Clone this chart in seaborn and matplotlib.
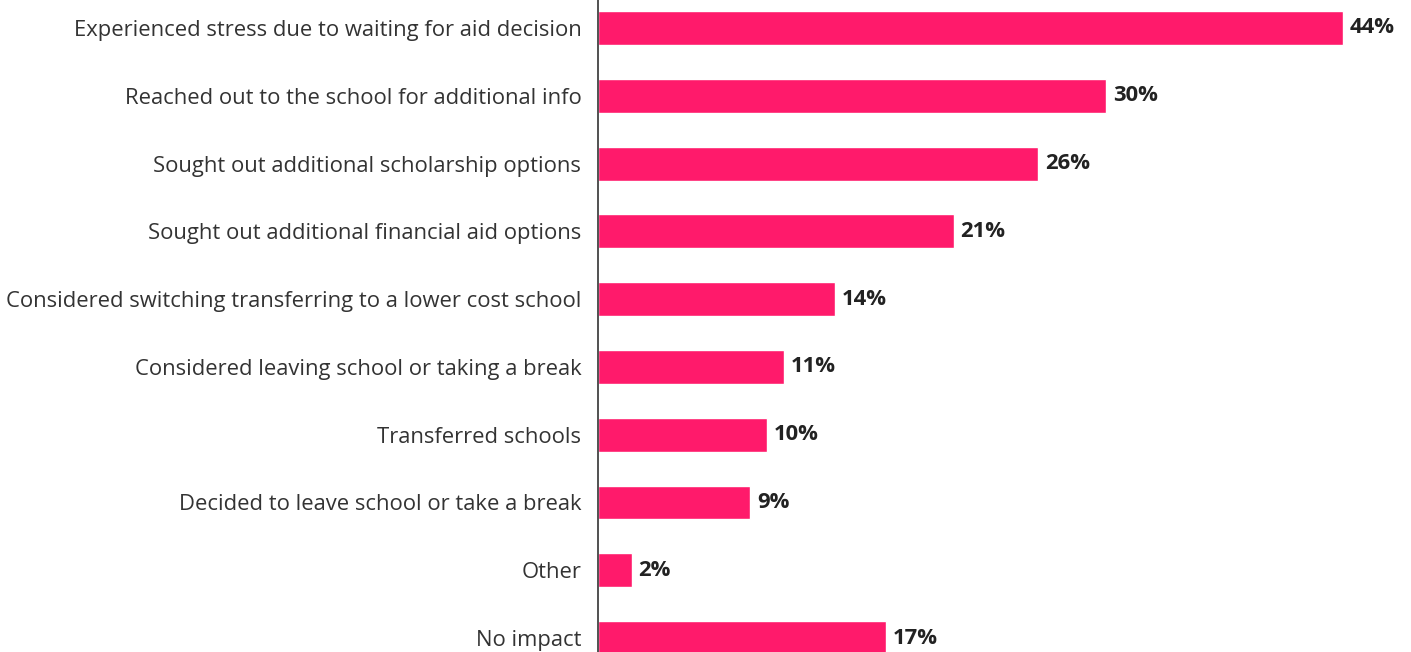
import matplotlib
matplotlib.use("Agg")
import matplotlib.pyplot as plt
import seaborn as sns
import pandas as pd

categories = [
    "Experienced stress due to waiting for aid decision",
    "Reached out to the school for additional info",
    "Sought out additional scholarship options",
    "Sought out additional financial aid options",
    "Considered switching transferring to a lower cost school",
    "Considered leaving school or taking a break",
    "Transferred schools",
    "Decided to leave school or take a break",
    "Other",
    "No impact",
]
values = [44, 30, 26, 21, 14, 11, 10, 9, 2, 17]

df = pd.DataFrame({"category": categories, "value": values})

sns.set_theme(style="white")
plt.rcParams["font.family"] = ["Open Sans", "DejaVu Sans"]

fig = plt.figure(figsize=(14.11, 6.52), dpi=100)
ax = fig.add_axes([598 / 1411, 0, (1411 - 598) / 1411, 1])

sns.barplot(data=df, x="value", y="category", orient="h", color="#FF1A6B",
            saturation=1, width=0.5, ax=ax)

ax.set_xlim(0, 48)
ax.set_ylim(9.206, -0.413)

for i, v in enumerate(values):
    ax.text(v + 0.4, i, f"{v}%", va="center", ha="left", fontsize=15.8,
            fontweight="bold", color="#222222")

ax.set_xlabel("")
ax.set_ylabel("")
ax.set_xticks([])
ax.tick_params(axis="y", length=0, pad=12, labelsize=15.8, labelcolor="#333333")
for s in ["top", "right", "bottom"]:
    ax.spines[s].set_visible(False)
ax.spines["left"].set_color("#333333")
ax.spines["left"].set_linewidth(1.2)

fig.savefig("out.png", dpi=100)
